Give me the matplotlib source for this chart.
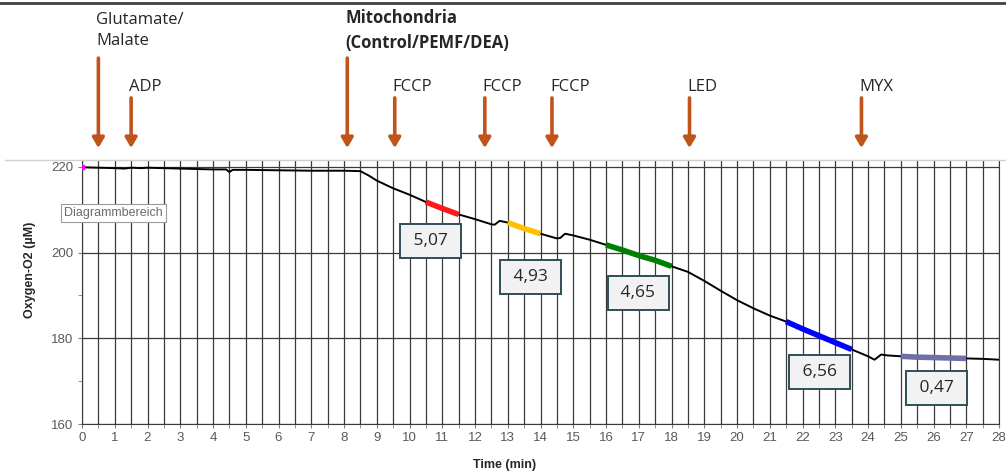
import matplotlib.pyplot as plt
from matplotlib.lines import Line2D
import numpy as np

plt.rcParams['font.family'] = ['Liberation Sans', 'DejaVu Sans']

# oxygen trace
time = [0, 0.5, 1.0, 1.3, 1.5, 1.8, 2.0, 2.5, 3.0, 3.5, 4.0, 4.4, 4.5, 4.6, 5.0,
        6.0, 7.0, 8.0, 8.5, 8.75, 9.0, 9.5, 10.0, 10.5, 11.0, 11.5, 12.0, 12.5,
        12.6, 12.75, 13.0, 13.5, 14.0, 14.5, 14.6, 14.75, 15.0, 15.5, 16.0, 16.5,
        17.0, 17.5, 18.0, 18.5, 19.0, 19.5, 20.0, 20.5, 21.0, 21.5, 22.0, 22.5,
        23.0, 23.5, 24.0, 24.2, 24.4, 24.6, 25.0, 25.5, 26.0, 26.5, 27.0, 27.5, 28.0]
oxygen = [219.9, 219.8, 219.7, 219.6, 219.8, 219.7, 219.8, 219.7, 219.6, 219.5,
          219.4, 219.4, 218.8, 219.3, 219.3, 219.2, 219.1, 219.1, 219.0, 218.0,
          216.8, 215.0, 213.5, 211.8, 210.3, 208.9, 207.8, 206.6, 206.5, 207.4,
          207.0, 205.6, 204.4, 203.3, 203.4, 204.4, 204.0, 203.0, 201.8, 200.6,
          199.3, 198.2, 196.8, 195.5, 193.4, 191.1, 188.9, 187.0, 185.3, 183.9,
          182.2, 180.6, 179.0, 177.4, 175.8, 175.0, 176.2, 176.0, 175.8, 175.6,
          175.5, 175.4, 175.3, 175.2, 175.0]

# highlighted rate windows
seg_start = [10.5, 13.0, 16.0, 21.5, 25.0]
seg_end = [11.5, 14.0, 18.0, 23.5, 27.0]
seg_colors = ['#ff1a1a', '#ffc000', '#008000', '#0000ff', '#6f6fa8']
rates = ['5,07', '4,93', '4,65', '6,56', '0,47']
rate_pos = [(10.65, 202.7), (13.7, 194.3), (16.98, 190.6), (22.53, 172.1), (26.1, 168.4)]

# injections
events = ['Glutamate/\nMalate', 'ADP', 'Mitochondria\n(Control/PEMF/DEA)',
          'FCCP', 'FCCP', 'FCCP', 'LED', 'MYX']
event_times = [0.5, 1.5, 8.1, 9.55, 12.3, 14.35, 18.55, 23.8]

fig = plt.figure(figsize=(10.06, 4.73), dpi=100)
ax = fig.add_axes([82/1006, 1-424/473, 917/1006, 264/473])

t = np.array(time)
o = np.array(oxygen)
ax.plot(t, o, color='black', lw=1.4, zorder=3)
for a, b, c in zip(seg_start, seg_end, seg_colors):
    m = (t >= a) & (t <= b)
    ax.plot(t[m], o[m], color=c, lw=4, solid_capstyle='butt', zorder=4)
ax.plot(t[0], o[0], 's', color='magenta', ms=3, zorder=5)

ax.set_xlim(0, 28)
ax.set_ylim(160, 221.6)
ax.set_xticks(range(0, 29))
ax.set_xticks(np.arange(0.5, 28, 1), minor=True)
ax.set_yticks([160, 180, 200, 220])
ax.set_yticks([170, 190, 210], minor=True)
ax.grid(True, which='major', color='#3a3a3a', lw=0.9)
ax.grid(True, which='minor', axis='x', color='#3a3a3a', lw=0.9)
ax.tick_params(which='both', length=3, color='#808080', labelsize=9.5,
               labelcolor='#595959', pad=3)
ax.spines['top'].set_color('#d0d0d0')
for s in ['left', 'right', 'bottom']:
    ax.spines[s].set_color('#3a3a3a')

for txt, (x, y) in zip(rates, rate_pos):
    ax.text(x, y, ' ' + txt + ' ', ha='center', va='center', fontsize=12.5,
            family=['Open Sans', 'DejaVu Sans'], color='#262626', zorder=6,
            bbox=dict(boxstyle='square,pad=0.5', fc='#f2f2f2', ec='#2f4f55', lw=1.4))

tr = ax.get_xaxis_transform()
for txt, x in zip(events, event_times):
    two = '\n' in txt
    top = 1.386 if two else 1.235
    ax.annotate('', xy=(x, 1.045), xytext=(x, top), xycoords=tr, textcoords=tr,
                annotation_clip=False,
                arrowprops=dict(arrowstyle='-|>,head_width=0.35,head_length=0.6',
                                color='#c0541b', lw=2.6, shrinkA=0, shrinkB=0))
    ax.text(x - 0.06, 1.49 if two else 1.277, txt, transform=tr, ha='left',
            va='center', fontsize=12, linespacing=1.45,
            family=['Open Sans', 'DejaVu Sans'], color='#262626',
            fontweight='bold' if txt.startswith('Mito') else 'normal')

fig.text(30/1006, 1-270/473, 'Oxygen-O2 (µM)', rotation=90, ha='center',
         va='center', fontsize=9, fontweight='bold', color='#262626')
fig.text(505/1006, 1-465/473, 'Time (min)', ha='center', va='center',
         fontsize=9, fontweight='bold', color='#262626')
fig.text(64/1006, 1-213/473, 'Diagrammbereich', ha='left', va='center',
         fontsize=9, color='#6a6a6a',
         bbox=dict(boxstyle='square,pad=0.25', fc='white', ec='#9a9a9a', lw=0.8))

fig.add_artist(Line2D([0, 1], [1-3/473, 1-3/473], color='#404040', lw=2))
fig.add_artist(Line2D([5/1006, 1], [1-160/473, 1-160/473], color='#d0d0d0', lw=1))

fig.savefig('out.png', dpi=100)
